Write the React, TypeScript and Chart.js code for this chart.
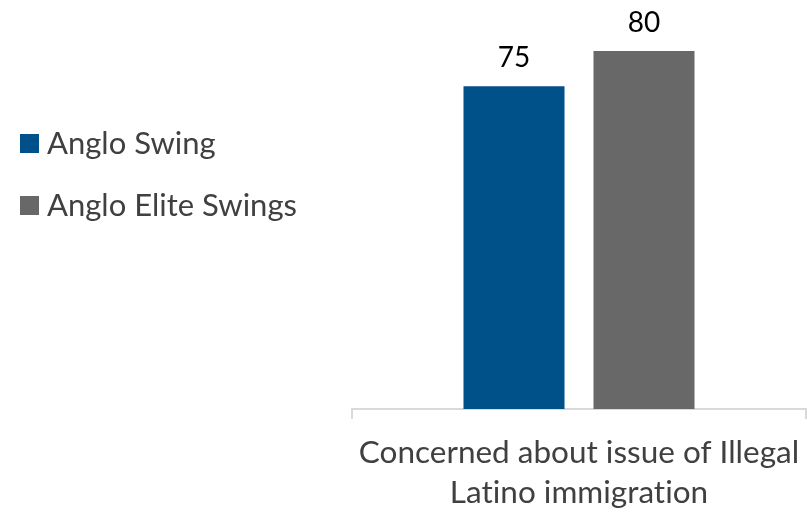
import React, { useEffect, useRef } from "react";
import { Chart, registerables } from "chart.js";

Chart.register(...registerables);

const categories = [["Concerned about issue of Illegal", "Latino immigration"]];
const seriesNames = ["Anglo Swing", "Anglo Elite Swings"];
const anglo = [75];
const elite = [80];
const colors = ["#00518A", "#686868"];

const FONT = "Lato, 'Open Sans', sans-serif";

const noLigaturePlugin = {
  id: "noLigatures",
  beforeDraw(chart: any) {
    try {
      (chart.ctx as any).textRendering = "optimizeSpeed";
    } catch (e) {}
  },
};

const legendPlugin = {
  id: "customLegend",
  afterDraw(chart: any) {
    const ctx = chart.ctx;
    ctx.save();
    const ys = [143, 205];
    chart.data.datasets.forEach((ds: any, i: number) => {
      ctx.fillStyle = ds.backgroundColor;
      ctx.fillRect(20, ys[i] - 9, 19, 19);
      ctx.fillStyle = "#404040";
      ctx.font = `31px ${FONT}`;
      ctx.textBaseline = "middle";
      ctx.textAlign = "left";
      ctx.fillText(ds.label, 47, ys[i] + 1);
    });
    ctx.restore();
  },
};

const valueLabelPlugin = {
  id: "valueLabels",
  afterDatasetsDraw(chart: any) {
    const ctx = chart.ctx;
    ctx.save();
    ctx.fillStyle = "#000000";
    ctx.font = `28px ${FONT}`;
    ctx.textAlign = "center";
    ctx.textBaseline = "middle";
    chart.data.datasets.forEach((ds: any, i: number) => {
      const meta = chart.getDatasetMeta(i);
      meta.data.forEach((bar: any, j: number) => {
        ctx.fillText(String(ds.data[j]), bar.x, bar.y - 28);
      });
    });
    ctx.restore();
  },
};

export default function App() {
  const ref = useRef<HTMLCanvasElement | null>(null);
  useEffect(() => {
    if (!ref.current) return;
    const chart = new Chart(ref.current, {
      type: "bar",
      data: {
        labels: categories as any,
        datasets: [
          { label: seriesNames[0], data: anglo, backgroundColor: colors[0] },
          { label: seriesNames[1], data: elite, backgroundColor: colors[1] },
        ],
      },
      options: {
        animation: false,
        responsive: false,
        maintainAspectRatio: false,
        layout: { padding: { left: 352, right: 1, top: 9, bottom: 0 } },
        datasets: {
          bar: { categoryPercentage: 0.5727, barPercentage: 0.777 },
        } as any,
        plugins: {
          legend: { display: false },
          tooltip: { enabled: false },
        },
        scales: {
          x: {
            offset: true,
            grid: {
              display: true,
              offset: true,
              drawOnChartArea: false,
              drawTicks: true,
              tickLength: 10,
              color: "#d9d9d9",
              lineWidth: 2,
            },
            border: { display: true, color: "#d9d9d9", width: 2 },
            ticks: {
              color: "#404040",
              font: { family: FONT, size: 31.5, lineHeight: 1.27 } as any,
              padding: 14,
              maxRotation: 0,
              autoSkip: false,
            },
            afterFit: (s: any) => {
              s.height = 103;
              s.paddingLeft = 0;
              s.paddingRight = 0;
            },
          },
          y: {
            display: false,
            min: 29,
            max: 86,
          },
        },
      },
      plugins: [noLigaturePlugin, legendPlugin, valueLabelPlugin],
    });
    return () => chart.destroy();
  }, []);
  return (
    <div style={{ position: "absolute", left: 0, top: 0, width: 807, height: 512, background: "#fff" }}>
      <canvas ref={ref} width={807} height={512} style={{ display: "block" }} />
    </div>
  );
}
